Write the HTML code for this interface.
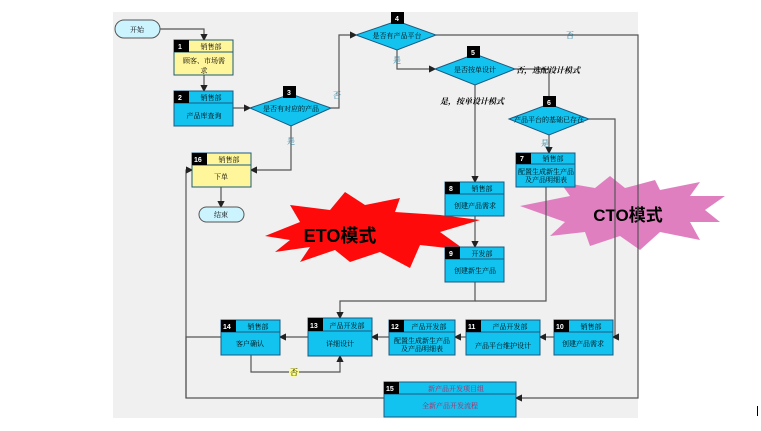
<!DOCTYPE html>
<html><head><meta charset="utf-8"><style>
html,body{margin:0;padding:0;background:#fff;}
svg{display:block;font-family:"Liberation Serif","Noto Serif CJK SC",serif;}
.t{font-size:7px;fill:#000;text-anchor:middle}
.n{font-size:7px;fill:#fff;font-weight:bold;font-family:"Liberation Sans",sans-serif}
.l{stroke:#555;stroke-width:1.2;fill:none}
</style></head><body>
<svg width="761" height="431" viewBox="0 0 761 431" xmlns="http://www.w3.org/2000/svg">
<defs><marker id="a" markerWidth="6" markerHeight="6" refX="5" refY="3" orient="auto"><path d="M0,0 L6,3 L0,6z" fill="#222"/></marker></defs>
<rect x="113" y="12" width="525" height="406" fill="#f0f0f0"/>
<!-- stars -->
<polygon fill="#ff0a0a" points="265,236 300,222 290,205 330,210 345,192 365,205 400,198 395,212 440,215 480,220 440,232 465,250 420,245 410,268 380,252 350,262 335,250 300,262 310,247 275,252 290,240"/>
<text x="340" y="242" font-family="Liberation Sans,Noto Sans CJK SC,sans-serif" font-size="18" font-weight="bold" text-anchor="middle">ETO模式</text>
<polygon fill="#e07fc0" points="520,206 570,196 560,182 595,188 610,176 625,188 655,180 660,190 700,182 690,196 725,196 705,210 720,222 690,222 700,240 660,232 640,250 620,236 590,246 585,232 550,236 565,222"/>
<text x="628" y="221" font-family="Liberation Sans,Noto Sans CJK SC,sans-serif" font-size="17" font-weight="bold" text-anchor="middle">CTO模式</text>
<!-- connectors -->
<path class="l" d="M160,29 H204 V40" marker-end="url(#a)"/>
<path class="l" d="M204,75 V91" marker-end="url(#a)"/>
<path class="l" d="M233,108 H250" marker-end="url(#a)"/>
<path class="l" d="M331,108 H339 V35 H356" marker-end="url(#a)"/>
<path class="l" d="M291,126 V170 H251" marker-end="url(#a)"/>
<path class="l" d="M221,187 V207" marker-end="url(#a)"/>
<path class="l" d="M397,50 V69 H435" marker-end="url(#a)"/>
<path class="l" d="M436,35 H638 V398 H516" marker-end="url(#a)"/>
<path class="l" d="M475,85 V182" marker-end="url(#a)"/>
<path class="l" d="M515,69 H549 V104"/>
<path class="l" d="M549,135 V153" marker-end="url(#a)"/>
<path class="l" d="M589,119 H615 V337 H613" marker-end="url(#a)"/>
<path class="l" d="M475,216 V247" marker-end="url(#a)"/>
<path class="l" d="M475,282 V301 H340 V318" marker-end="url(#a)"/>
<path class="l" d="M546,187 V301 H475"/>
<path class="l" d="M554,337 H540" marker-end="url(#a)"/>
<path class="l" d="M466,337 H455" marker-end="url(#a)"/>
<path class="l" d="M389,337 H372" marker-end="url(#a)"/>
<path class="l" d="M308,337 H280" marker-end="url(#a)"/>
<path class="l" d="M251,355 V372 H340 V356" marker-end="url(#a)"/>
<path class="l" d="M221,337 H186 V398 H384"/>
<path class="l" d="M186,398 V170 H192" marker-end="url(#a)"/>
<!-- labels on lines -->
<text x="337" y="98" font-size="8" fill="#1a7a9a" text-anchor="middle">否</text>
<text x="291" y="144" font-size="8" fill="#1a7a9a" text-anchor="middle">是</text>
<text x="397" y="63" font-size="8" fill="#1a7a9a" text-anchor="middle">是</text>
<text x="570" y="38" font-size="8" fill="#1a7a9a" text-anchor="middle">否</text>
<text x="516" y="73" font-size="8" font-style="italic" font-weight="bold">否，选配设计模式</text>
<text x="440" y="104" font-size="8" font-style="italic" font-weight="bold">是，按单设计模式</text>
<text x="545" y="146" font-size="8" fill="#1a7a9a" text-anchor="middle">是</text>
<circle cx="294" cy="372" r="5" fill="#ffff88"/>
<text x="294" y="375" font-size="8" text-anchor="middle">否</text>
<!-- ovals -->
<rect x="115" y="20" width="45" height="18" rx="9" fill="#ccf4ff" stroke="#555"/>
<text class="t" x="137" y="32">开始</text>
<rect x="199" y="207" width="45" height="15" rx="7.5" fill="#ccf4ff" stroke="#555"/>
<text class="t" x="221" y="217">结束</text>
<!-- diamonds -->
<polygon points="250,108 291,94 331,108 291,126" fill="#12c3f0" stroke="#1a5a80"/>
<rect x="283" y="86" width="13" height="12" fill="#000"/><text class="n" x="287" y="95">3</text>
<text class="t" x="291" y="111" font-size="6">是否有对应的产品</text>
<polygon points="356,35 397,21 436,35 397,50" fill="#12c3f0" stroke="#1a5a80"/>
<rect x="391" y="12" width="13" height="12" fill="#000"/><text class="n" x="395" y="21">4</text>
<text class="t" x="397" y="38">是否有产品平台</text>
<polygon points="435,69 475,54 515,69 475,85" fill="#12c3f0" stroke="#1a5a80"/>
<rect x="467" y="46" width="13" height="12" fill="#000"/><text class="n" x="471" y="55">5</text>
<text class="t" x="475" y="72">是否按单设计</text>
<polygon points="509,119 549,104 589,119 549,135" fill="#12c3f0" stroke="#1a5a80"/>
<rect x="543" y="96" width="13" height="11" fill="#000"/><text class="n" x="547" y="105">6</text>
<text class="t" x="549" y="122" font-size="6">产品平台的基础已存在</text>
<!-- boxes -->
<g stroke="#1a5a80" stroke-width="1">
<rect x="174" y="40" width="59" height="35" fill="#fff59a"/><line x1="174" y1="52" x2="233" y2="52"/>
<rect x="174" y="91" width="59" height="35" fill="#12c3f0"/><line x1="174" y1="103" x2="233" y2="103"/>
<rect x="192" y="153" width="59" height="34" fill="#fff59a"/><line x1="192" y1="165" x2="251" y2="165"/>
<rect x="516" y="153" width="59" height="34" fill="#12c3f0"/><line x1="516" y1="164" x2="575" y2="164"/>
<rect x="445" y="182" width="59" height="34" fill="#12c3f0"/><line x1="445" y1="194" x2="504" y2="194"/>
<rect x="445" y="247" width="59" height="35" fill="#12c3f0"/><line x1="445" y1="259" x2="504" y2="259"/>
<rect x="554" y="320" width="59" height="35" fill="#12c3f0"/><line x1="554" y1="332" x2="613" y2="332"/>
<rect x="466" y="320" width="74" height="35" fill="#12c3f0"/><line x1="466" y1="332" x2="540" y2="332"/>
<rect x="389" y="320" width="66" height="35" fill="#12c3f0"/><line x1="389" y1="332" x2="455" y2="332"/>
<rect x="308" y="318" width="64" height="38" fill="#12c3f0"/><line x1="308" y1="331" x2="372" y2="331"/>
<rect x="221" y="320" width="59" height="35" fill="#12c3f0"/><line x1="221" y1="332" x2="280" y2="332"/>
<rect x="384" y="382" width="132" height="35" fill="#12c3f0"/><line x1="384" y1="394" x2="516" y2="394"/>
</g>
<g fill="#000">
<rect x="174" y="40" width="15" height="12"/><rect x="174" y="91" width="15" height="12"/>
<rect x="192" y="153" width="15" height="12"/><rect x="516" y="153" width="15" height="11"/>
<rect x="445" y="182" width="15" height="12"/><rect x="445" y="247" width="15" height="12"/>
<rect x="554" y="320" width="15" height="12"/><rect x="466" y="320" width="15" height="12"/>
<rect x="389" y="320" width="15" height="12"/><rect x="308" y="318" width="15" height="13"/>
<rect x="221" y="320" width="15" height="12"/><rect x="384" y="382" width="15" height="12"/>
</g>
<text class="n" x="178" y="49">1</text><text class="n" x="178" y="100">2</text>
<text class="n" x="194" y="162">16</text><text class="n" x="520" y="161">7</text>
<text class="n" x="449" y="191">8</text><text class="n" x="449" y="256">9</text>
<text class="n" x="556" y="329">10</text><text class="n" x="468" y="329">11</text>
<text class="n" x="391" y="329">12</text><text class="n" x="310" y="328">13</text>
<text class="n" x="223" y="329">14</text><text class="n" x="386" y="391">15</text>
<text class="t" x="211" y="49">销售部</text>
<text class="t" x="204" y="63" font-size="9">顾客、市场需</text><text class="t" x="204" y="73" font-size="9">求</text>
<text class="t" x="211" y="100">销售部</text>
<text class="t" x="204" y="118" font-size="9">产品库查询</text>
<text class="t" x="229" y="162">销售部</text>
<text class="t" x="221" y="179">下单</text>
<text class="t" x="553" y="161">销售部</text>
<text class="t" x="546" y="174" font-size="6.5">配置生成新生产品</text>
<text class="t" x="546" y="182" font-size="6.5">及产品明细表</text>
<text class="t" x="482" y="191">销售部</text>
<text class="t" x="475" y="208">创建产品需求</text>
<text class="t" x="482" y="256">开发部</text>
<text class="t" x="475" y="273">创建新生产品</text>
<text class="t" x="591" y="329">销售部</text>
<text class="t" x="583" y="346">创建产品需求</text>
<text class="t" x="510" y="329">产品开发部</text>
<text class="t" x="503" y="348" font-size="9">产品平台维护设计</text>
<text class="t" x="429" y="329">产品开发部</text>
<text class="t" x="422" y="343" font-size="6.5">配置生成新生产品</text>
<text class="t" x="422" y="351" font-size="6.5">及产品明细表</text>
<text class="t" x="347" y="328">产品开发部</text>
<text class="t" x="340" y="346">详细设计</text>
<text class="t" x="258" y="329">销售部</text>
<text class="t" x="250" y="346">客户确认</text>
<text class="t" x="456" y="391" fill="#c0205a" style="fill:#c0205a">新产品开发项目组</text>
<text class="t" x="450" y="408" style="fill:#c0205a">全新产品开发流程</text>
<rect x="757" y="406" width="1" height="10" fill="#000"/>
</svg>
</body></html>
